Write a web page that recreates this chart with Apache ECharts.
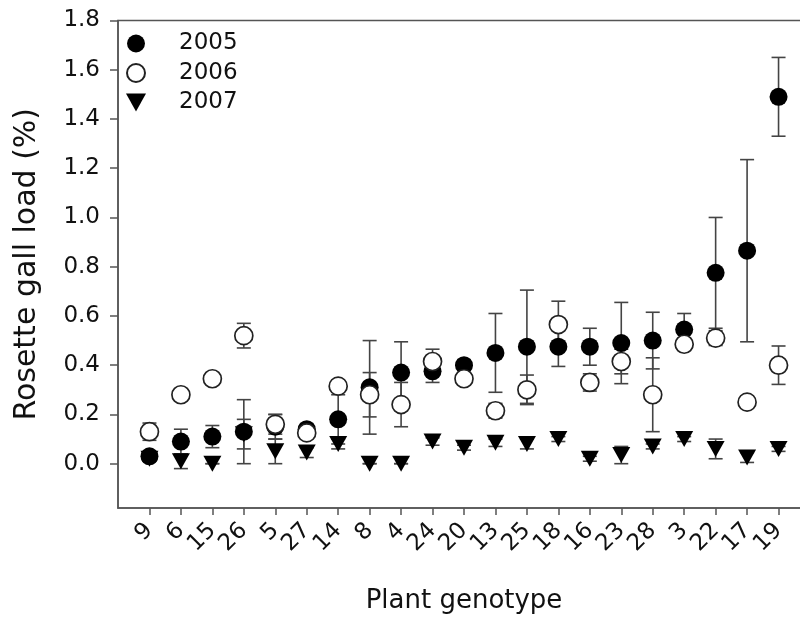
<!DOCTYPE html>
<html lang="en">
<head>
    <meta charset="UTF-8">
    <title>Rosette gall load</title>
    <script src="https://cdn.jsdelivr.net/npm/echarts@6/dist/echarts.min.js"></script>
    <style>
        html,body{margin:0;padding:0;background:#fff}
        #chart{width:800px;height:624px}
    </style>
</head>
<body>
    <div id="chart"></div>
    <script>
        // plant genotypes, in plotted order
        var genotypes = ['9','6','15','26','5','27','14','8','4','24','20','13','25','18','16','23','28','3','22','17','19'];

        var mean2005 = [0.03,0.09,0.11,0.13,0.15,0.14,0.18,0.31,0.37,0.375,0.40,0.45,0.475,0.475,0.475,0.49,0.50,0.545,0.775,0.865,1.49];
        var err2005  = [0.02,0.05,0.045,0.13,0.05,0.02,0.10,0.19,0.125,0.045,0.02,0.16,0.23,0.08,0.075,0.165,0.115,0.065,0.225,0.37,0.16];

        var mean2006 = [0.13,0.28,0.345,0.52,0.16,0.125,0.315,0.28,0.24,0.415,0.345,0.215,0.30,0.565,0.33,0.415,0.28,0.485,0.51,0.25,0.40];
        var err2006  = [0.035,0.01,0.01,0.05,0.04,0.02,0.02,0.09,0.09,0.05,0.02,0.03,0.06,0.095,0.035,0.05,0.15,0.02,0.03,0.02,0.078];

        var mean2007 = [0.02,0.01,0.0,0.12,0.05,0.045,0.08,0.0,0.0,0.09,0.065,0.085,0.08,0.10,0.02,0.035,0.07,0.10,0.06,0.025,0.06];
        var err2007  = [0.01,0.03,0.0,0.06,0.05,0.02,0.02,0.0,0.0,0.015,0.01,0.015,0.02,0.01,0.01,0.035,0.01,0.01,0.04,0.02,0.01];

        var yTicks = [0,0.2,0.4,0.6,0.8,1.0,1.2,1.4,1.6,1.8];

        var font = 'DejaVu Sans';
        var ink = '#111';
        var positions = genotypes.map(function (g, i) { return i + 1; });
        // blank labels at both ends so the min/max label check never drops a genotype
        var labelPositions = [0].concat(positions, [22]);

        function points(means) {
            return means.map(function (v, i) { return [i + 1, v]; });
        }
        function bars(means, errs) {
            return means.map(function (v, i) { return [i + 1, v - errs[i], v + errs[i]]; });
        }
        function renderBar(params, api) {
            var lo = api.coord([api.value(0), api.value(1)]);
            var hi = api.coord([api.value(0), api.value(2)]);
            var w = 7;
            var st = {stroke: '#444', lineWidth: 1.6, fill: null};
            return {
                type: 'group',
                children: [
                    {type: 'line', shape: {x1: lo[0], y1: lo[1], x2: hi[0], y2: hi[1]}, style: st},
                    {type: 'line', shape: {x1: lo[0] - w, y1: lo[1], x2: lo[0] + w, y2: lo[1]}, style: st},
                    {type: 'line', shape: {x1: hi[0] - w, y1: hi[1], x2: hi[0] + w, y2: hi[1]}, style: st}
                ]
            };
        }
        function errSeries(name, means, errs) {
            return {
                name: name,
                type: 'custom',
                renderItem: renderBar,
                data: bars(means, errs),
                encode: {x: 0, y: [1, 2]},
                z: 1,
                silent: true
            };
        }

        var chart = echarts.init(document.getElementById('chart'));
        var option = {
            animation: false,
            grid: {
                left: 118, right: -10, top: 20.5, bottom: 116,
                outerBoundsMode: 'none',
                containLabel: false,
                show: true, borderColor: '#555', borderWidth: 1.5
            },
            legend: {
                data: ['2005', '2006', '2007'],
                orient: 'vertical',
                left: 121, top: 27,
                itemWidth: 38, itemHeight: 18, itemGap: 6.5,
                textStyle: {fontFamily: font, fontSize: 23, color: ink, padding: [0, 0, 0, 19]}
            },
            xAxis: {
                type: 'value',
                min: 0, max: 22,
                name: 'Plant genotype',
                nameLocation: 'middle',
                nameGap: 80,
                nameTextStyle: {fontFamily: font, fontSize: 26, color: ink},
                axisLine: {show: true, onZero: false, lineStyle: {color: '#555', width: 1.5}},
                axisTick: {show: true, length: 7, customValues: positions, lineStyle: {color: '#555', width: 1.5}},
                axisLabel: {
                    customValues: labelPositions,
                    hideOverlap: false,
                    rotate: 45,
                    margin: 19,
                    fontFamily: font, fontSize: 23, color: ink,
                    formatter: function (v) { return genotypes[Math.round(v) - 1] || ''; }
                },
                splitLine: {show: false}
            },
            yAxis: {
                type: 'value',
                min: -0.18, max: 1.8,
                name: 'Rosette gall load (%)',
                nameLocation: 'middle',
                nameGap: 76,
                nameTextStyle: {fontFamily: font, fontSize: 30, color: ink},
                axisLine: {show: true, onZero: false, lineStyle: {color: '#555', width: 1.5}},
                axisTick: {show: true, length: 8, customValues: yTicks, lineStyle: {color: '#555', width: 1.5}},
                axisLabel: {
                    customValues: yTicks,
                    showMinLabel: true,
                    showMaxLabel: true,
                    margin: 18,
                    fontFamily: font, fontSize: 23, color: ink,
                    formatter: function (v) { return v.toFixed(1); }
                },
                splitLine: {show: false}
            },
            series: [
                errSeries('err2005', mean2005, err2005),
                errSeries('err2006', mean2006, err2006),
                errSeries('err2007', mean2007, err2007),
                {
                    name: '2005',
                    type: 'scatter',
                    data: points(mean2005),
                    symbol: 'circle',
                    symbolSize: 18,
                    itemStyle: {color: '#000', opacity: 1},
                    z: 2
                },
                {
                    name: '2006',
                    type: 'scatter',
                    data: points(mean2006),
                    symbol: 'circle',
                    symbolSize: 18,
                    itemStyle: {color: '#fff', borderColor: '#222', borderWidth: 1.7, opacity: 1},
                    z: 3
                },
                {
                    name: '2007',
                    type: 'scatter',
                    data: points(mean2007),
                    symbol: 'path://M0,0 L20,0 L10,18 Z',
                    symbolSize: [18, 16],
                    itemStyle: {color: '#000', opacity: 1},
                    z: 4
                }
            ]
        };
        chart.setOption(option);
    </script>
</body>
</html>
